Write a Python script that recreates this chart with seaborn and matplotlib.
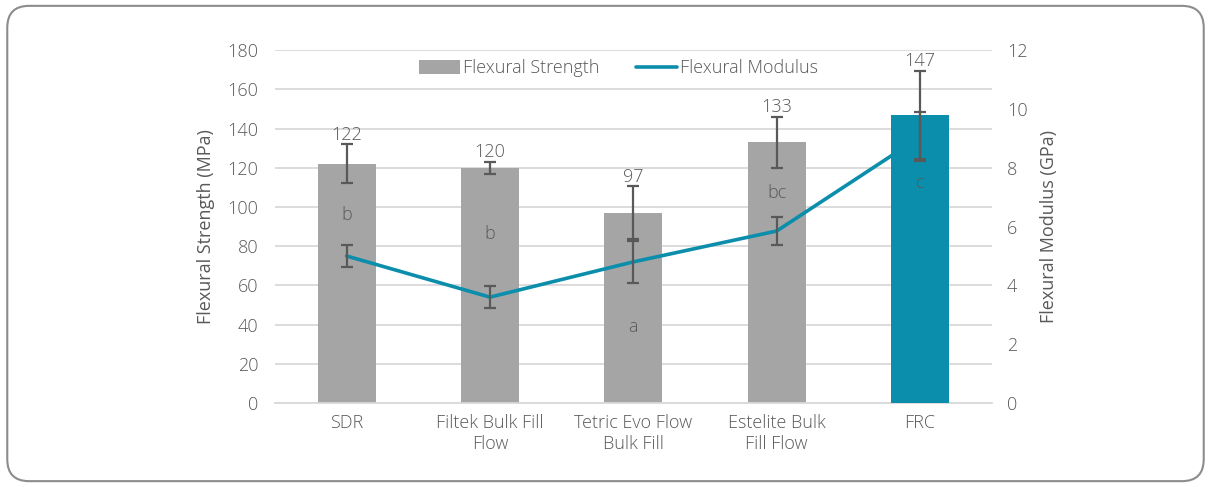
import numpy as np
import matplotlib
matplotlib.use('Agg')
import matplotlib.pyplot as plt
import seaborn as sns
from matplotlib.patches import FancyBboxPatch, Patch
from matplotlib.lines import Line2D

# data
materials = ['SDR', 'Filtek Bulk Fill\nFlow', 'Tetric Evo Flow\nBulk Fill',
             'Estelite Bulk\nFill Flow', 'FRC']
strength = [122, 120, 97, 133, 147]
strength_sd = [10, 3, 13.5, 13, 22.5]
modulus = [5.0, 3.6, 4.8, 5.85, 9.05]
modulus_sd = [0.38, 0.38, 0.72, 0.48, 0.83]
letters = ['b', 'b', 'a', 'bc', 'c']
letter_y = [96, 86, 39, 107, 112]

grey = '#A5A5A5'
teal = '#0A8EAB'
txt = '#595959'
fs = 13

sns.set_style('white')
plt.rcParams['font.family'] = ['Open Sans', 'DejaVu Sans']
plt.rcParams['font.weight'] = 'light'

fig = plt.figure(figsize=(12.11, 4.87), dpi=100)
ax = fig.add_axes([0.227, 0.1725, 0.592, 0.7245])
ax2 = ax.twinx()

# rounded outer frame
fig.patches.append(FancyBboxPatch((0.006, 0.012), 0.988, 0.976,
                                  boxstyle='round,pad=0,rounding_size=0.018',
                                  transform=fig.transFigure, fill=False,
                                  edgecolor='#8C8C8C', linewidth=1.5,
                                  mutation_aspect=2.5))

pos = np.arange(len(materials))
sns.barplot(x=pos, y=strength, hue=pos, palette=[grey] * 4 + [teal],
            saturation=1, legend=False, width=0.405, errorbar=None, ax=ax,
            native_scale=True)
for i, p in enumerate(ax.patches):
    p.set_zorder(3 if i == len(ax.patches) - 1 else 1)
    p.set_linewidth(0)

# modulus line sits above grey bars but behind the FRC bar
sns.lineplot(x=pos, y=modulus, color=teal, linewidth=2.6, ax=ax,
             transform=ax2.transData, zorder=2)

ax.errorbar(pos, strength, yerr=strength_sd, fmt='none', ecolor=txt,
            elinewidth=1.6, capsize=4.5, capthick=1.6, zorder=5)
ax2.errorbar(pos, modulus, yerr=modulus_sd, fmt='none', ecolor=txt,
             elinewidth=1.6, capsize=4.5, capthick=1.6, zorder=5)

for i in range(len(pos)):
    ax.annotate(str(strength[i]), (pos[i], strength[i] + strength_sd[i]),
                xytext=(0, 0.5), textcoords='offset points', ha='center',
                va='bottom', fontsize=fs, color=txt, zorder=6)
    ax.text(pos[i], letter_y[i], letters[i], ha='center', va='center',
            fontsize=fs, color=txt, zorder=6)

ax.set_xlim(-0.5, 4.5)
ax.set_ylim(0, 180)
ax.set_yticks(range(0, 181, 20))
ax2.set_ylim(0, 12)
ax2.set_yticks(range(0, 13, 2))
ax.set_xticks(pos)
ax.set_xticklabels(materials)
ax.yaxis.grid(True, color='#D9D9D9', linewidth=1.3)
ax.set_axisbelow(True)
for a in (ax, ax2):
    for s in a.spines.values():
        s.set_visible(False)
    a.tick_params(length=0, colors=txt, labelsize=fs)
ax.spines['bottom'].set_visible(True)
ax.spines['bottom'].set_color('#D9D9D9')
ax.spines['bottom'].set_linewidth(1.3)
ax.tick_params(axis='x', pad=8)
ax.tick_params(axis='y', pad=12)
ax2.tick_params(axis='y', pad=11)
ax.set_ylabel('Flexural Strength (MPa)', fontsize=fs, color=txt, labelpad=9)
ax2.set_ylabel('Flexural Modulus (GPa)', fontsize=fs, color=txt, labelpad=9)
ax.set_xlabel('')

handles = [Patch(facecolor=grey, edgecolor='none'),
           Line2D([0], [0], color=teal, linewidth=2.6)]
ax.legend(handles, ['Flexural Strength', 'Flexural Modulus'], ncol=2,
          frameon=False, loc='center', bbox_to_anchor=(0.479, 0.949),
          fontsize=fs, labelcolor=txt, handlelength=2.3, handletextpad=0.15,
          columnspacing=2.0, handleheight=0.8)

fig.savefig('out.png', dpi=100)
